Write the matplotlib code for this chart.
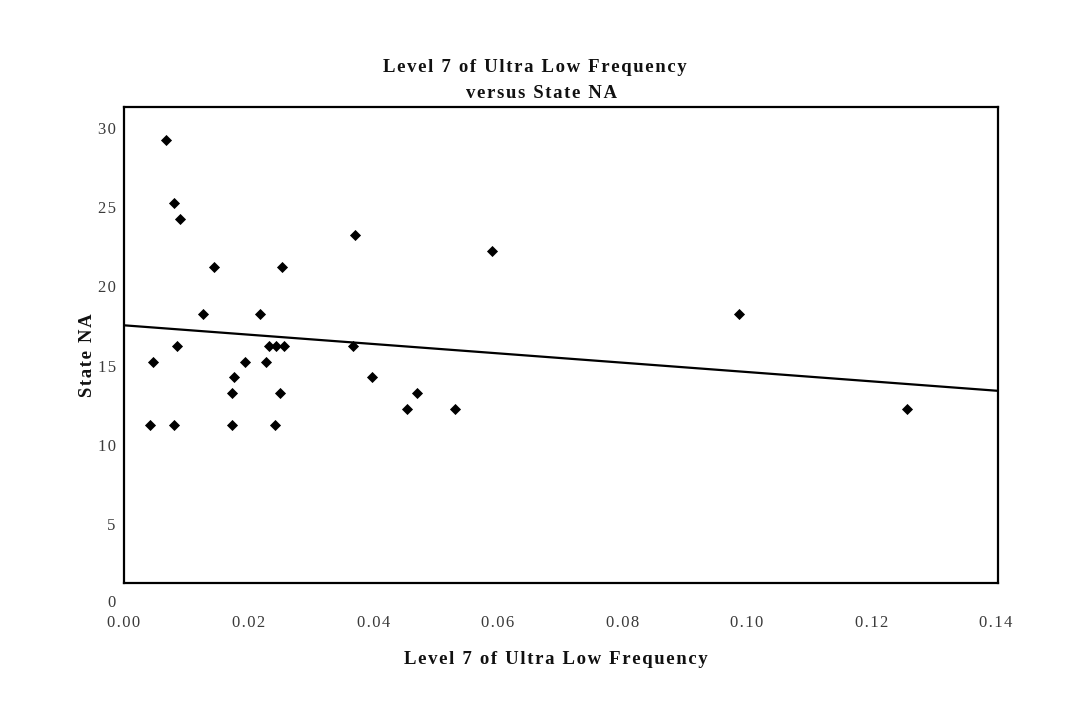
import matplotlib
matplotlib.use("Agg")
import matplotlib.pyplot as plt
import matplotlib.transforms as mtransforms
import numpy as np

# ---- data ----
level7_ulf = [0.00678, 0.0080, 0.00896, 0.01443, 0.02535, 0.03708, 0.01266, 0.02177,
              0.00848, 0.02326, 0.02445, 0.02562, 0.03676, 0.00469, 0.01947, 0.02273,
              0.01764, 0.03987, 0.01732, 0.02503, 0.0471, 0.04543, 0.0041, 0.0080,
              0.01732, 0.02422, 0.05915, 0.05309, 0.09871, 0.12575]
state_na = [29, 25, 24, 21, 21, 23, 18, 18,
            16, 16, 16, 16, 16, 15, 15, 15,
            14, 14, 13, 13, 13, 12, 11, 11,
            11, 11, 22, 12, 18, 12]
fit_intercept = 17.29
fit_slope = -29.5

xticks = [0.00, 0.02, 0.04, 0.06, 0.08, 0.10, 0.12, 0.14]
xtick_labels = ["0.00", "0.02", "0.04", "0.06", "0.08", "0.10", "0.12", "0.14"]
yticks = [5, 10, 15, 20, 25, 30]
ytick_labels = ["5", "10", "15", "20", "25", "30"]

title_lines = ["Level 7 of Ultra Low Frequency", "versus State NA"]
xlabel = "Level 7 of Ultra Low Frequency"
ylabel = "State NA"

serif = ["Liberation Serif", "DejaVu Serif"]
plt.rcParams["font.family"] = serif

HAIR = "\u200a"


def spaced(s):
    return HAIR.join(s)


W, H = 1074, 713
fig = plt.figure(figsize=(W / 100, H / 100), dpi=100)
ax = fig.add_axes([124 / W, 1 - 582.7 / H, (998 - 124) / W, (582.7 - 106.7) / H])

ax.scatter(level7_ulf, state_na, marker="D", s=32, color="black", linewidths=0, zorder=3)

xl = (0.0, 0.1403)
xs = np.array(xl)
ax.plot(xs, fit_intercept + fit_slope * xs, color="black", lw=1.6, zorder=2)

ax.set_xlim(*xl)
ax.set_ylim(1.03, 31.1)

ax.set_xticks(xticks)
ax.set_xticklabels([spaced(t) for t in xtick_labels])
ax.set_yticks(yticks)
ax.set_yticklabels([spaced(t) for t in ytick_labels])
ax.tick_params(axis="both", length=0, labelsize=12, labelcolor="#3a3a3a")
ax.tick_params(axis="x", pad=23)
ax.tick_params(axis="y", pad=6)

down = mtransforms.ScaledTranslation(0, -4 / 100, fig.dpi_scale_trans)
for lbl in ax.get_yticklabels():
    lbl.set_transform(lbl.get_transform() + down)

ax.annotate("0", xy=(0, 0), xycoords=("axes fraction", "data"),
            xytext=(-8, -4), textcoords="offset pixels", ha="right", va="center",
            fontsize=12, color="#3a3a3a", annotation_clip=False)

for sp in ax.spines.values():
    sp.set_linewidth(1.6)
    sp.set_color("black")

tkw = dict(ha="center", va="center", fontsize=13.5, fontweight="bold", color="#111111")
fig.text(535 / W, 1 - 68 / H, spaced(title_lines[0]), **tkw)
fig.text(541 / W, 1 - 94 / H, spaced(title_lines[1]), **tkw)
fig.text(556 / W, 1 - 660 / H, spaced(xlabel), **tkw)
fig.text(88 / W, 1 - 355 / H, spaced(ylabel), rotation=90, **tkw)

fig.savefig("out.png", dpi=100, facecolor="white")
